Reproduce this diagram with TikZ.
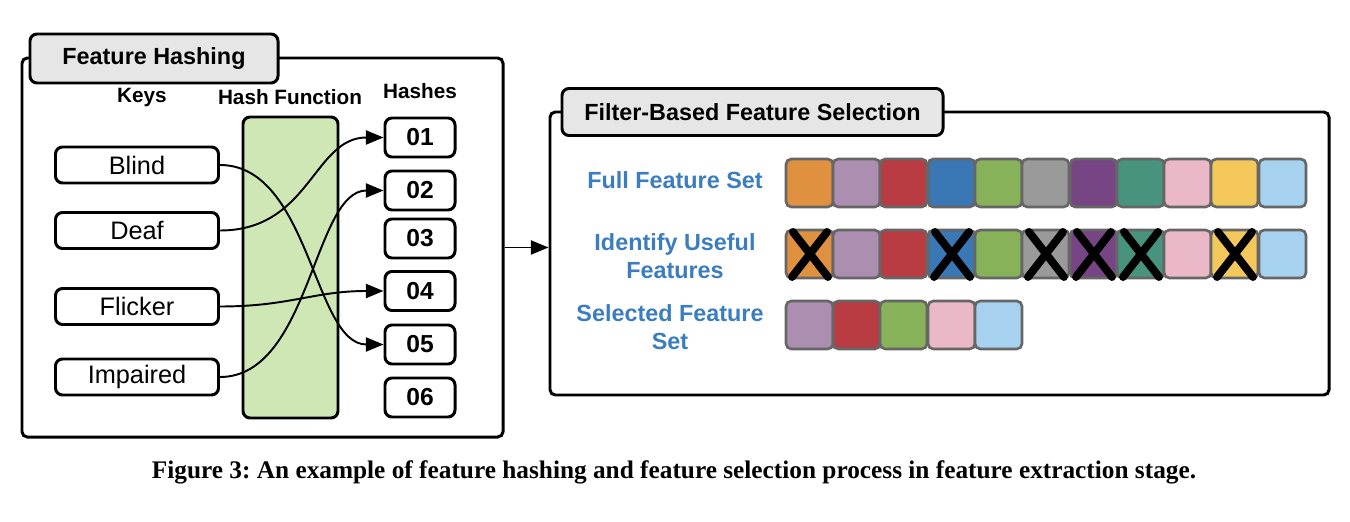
\documentclass[tikz,border=0pt]{standalone}
\usepackage{fontspec}
\setmainfont{Liberation Sans}
\newfontfamily\captionfont{Liberation Serif}
\usetikzlibrary{arrows.meta}
\frenchspacing

\definecolor{tabgray}{HTML}{E6E6E6}
\definecolor{hashgreen}{HTML}{CFE6B5}
\definecolor{labelblue}{HTML}{3B7DBF}
\definecolor{sqborder}{HTML}{666666}
\definecolor{fOrange}{HTML}{E0913F}
\definecolor{fLilac}{HTML}{AC8FB0}
\definecolor{fRed}{HTML}{B83C41}
\definecolor{fBlue}{HTML}{3978B5}
\definecolor{fGreen}{HTML}{87B259}
\definecolor{fGray}{HTML}{9A9A9A}
\definecolor{fPurple}{HTML}{784584}
\definecolor{fTeal}{HTML}{47937D}
\definecolor{fPink}{HTML}{EAB8C6}
\definecolor{fYellow}{HTML}{F3C75A}
\definecolor{fSky}{HTML}{A6D1EF}

\tikzset{
	boxframe/.style={draw, line width=1.7pt, rounded corners=3pt},
	titletab/.style={draw, line width=1.7pt, rounded corners=4pt, fill=tabgray, font=\bfseries\fontsize{13.3}{16}\selectfont},
	keybox/.style={draw, line width=1.7pt, rounded corners=4pt, minimum width=3.26cm, minimum height=0.72cm, font=\fontsize{14.4}{17}\selectfont},
	hashbox/.style={draw, line width=1.7pt, rounded corners=4pt, minimum width=1.4cm, minimum height=0.78cm, font=\bfseries\fontsize{14}{17}\selectfont},
	colhead/.style={font=\bfseries\fontsize{11.8}{14}\selectfont},
	bluelabel/.style={text=labelblue, align=center, font=\bfseries\fontsize{13.3}{16}\selectfont},
	featsq/.style={draw=sqborder, line width=1.5pt, rounded corners=3pt},
	xmark/.style={line width=4.5pt, line cap=round},
	hasharrow/.style={line width=1.1pt, -{Triangle[length=10pt,width=8pt]}},
}

% one feature square, top left corner in pixels
\def\fsq(#1,#2)#3{\draw[featsq, fill=#3] (#1,#2) rectangle ++(47,48);}
\def\xout(#1,#2){\draw[xmark] (#1+7,#2+2) -- (#1+42,#2+47) (#1+41,#2+2) -- (#1+6,#2+47);}

\begin{document}
\begin{tikzpicture}[x=0.2mm, y=-0.2mm]
	%%%%% START %%%%%
	\useasboundingbox (0,0) rectangle (1350,522);
	
	\node[boxframe, minimum width=9.62cm, minimum height=7.58cm] (fh) at (262.5,247.5) {};
	\node[titletab, minimum width=4.96cm, minimum height=0.98cm] (fhtab) at (154,58.5) {Feature Hashing};
	
	\node[colhead] (keyshead) at (142,98) {Keys};
	\node[colhead] (fnhead) at (290,97) {Hash Function};
	\node[colhead] (hasheshead) at (420,91) {Hashes};
	
	\node[draw, line width=1.7pt, rounded corners=4pt, fill=hashgreen, minimum width=1.9cm, minimum height=6.02cm] (hashfn) at (290.5,267.5) {};
	
	\node[keybox] (blind) at (137,165) {Blind};
	\node[keybox] (deaf) at (137,230.5) {Deaf};
	\node[keybox] (flicker) at (137,306.5) {Flicker};
	\node[keybox] (impaired) at (137,377) {Impaired};
	
	\node[hashbox] (h01) at (420,137.5) {01};
	\node[hashbox] (h02) at (420,190.5) {02};
	\node[hashbox] (h03) at (420,238.5) {03};
	\node[hashbox] (h04) at (420,291) {04};
	\node[hashbox] (h05) at (420,344.5) {05};
	\node[hashbox] (h06) at (420,397.5) {06};
	
	\draw[hasharrow] (blind.east) .. controls +(90,0) and +(-70,0) .. (h05.west);
	\draw[hasharrow] (deaf.east) .. controls +(90,0) and +(-70,0) .. (h01.west);
	\draw[hasharrow] (flicker.east) .. controls +(70,0) and +(-70,0) .. (h04.west);
	\draw[hasharrow] (impaired.east) .. controls +(90,0) and +(-70,0) .. (h02.west);
	
	% selection panel
	\node[boxframe, minimum width=15.58cm, minimum height=5.66cm] (fs) at (939.5,253.5) {};
	\node[titletab, minimum width=7.62cm, minimum height=0.94cm] (fstab) at (752.5,112) {Filter-Based Feature Selection};
	\draw[hasharrow] (fh.east) -- (fh.east -| fs.west);
	
	\node[bluelabel] (fullset) at (675,180) {Full Feature Set};
	\node[bluelabel] (useful) at (675,256) {Identify Useful\\Features};
	\node[bluelabel] (selset) at (670,327) {Selected Feature\\Set};
	
	\fsq(786,159){fOrange} \fsq(833,159){fLilac} \fsq(880,159){fRed} \fsq(928,159){fBlue}
	\fsq(975,159){fGreen} \fsq(1022,159){fGray} \fsq(1070,159){fPurple} \fsq(1117,159){fTeal}
	\fsq(1164,159){fPink} \fsq(1211,159){fYellow} \fsq(1259,159){fSky}
	
	\fsq(786,230){fOrange} \fsq(833,230){fLilac} \fsq(880,230){fRed} \fsq(928,230){fBlue}
	\fsq(975,230){fGreen} \fsq(1022,230){fGray} \fsq(1070,230){fPurple} \fsq(1117,230){fTeal}
	\fsq(1164,230){fPink} \fsq(1211,230){fYellow} \fsq(1259,230){fSky}
	
	\xout(786,230) \xout(928,230) \xout(1022,230)
	\xout(1070,230) \xout(1117,230) \xout(1211,230)
	
	\fsq(786,301){fLilac} \fsq(833,301){fRed} \fsq(880,301){fGreen}
	\fsq(928,301){fPink} \fsq(975,301){fSky}
	
	\node[font=\captionfont\bfseries\fontsize{14.4}{17}\selectfont] (caption) at (674,472) {Figure 3: An example of feature hashing and feature selection process in feature extraction stage.};
	
	%%%%% END %%%%%
\end{tikzpicture}
\end{document}
